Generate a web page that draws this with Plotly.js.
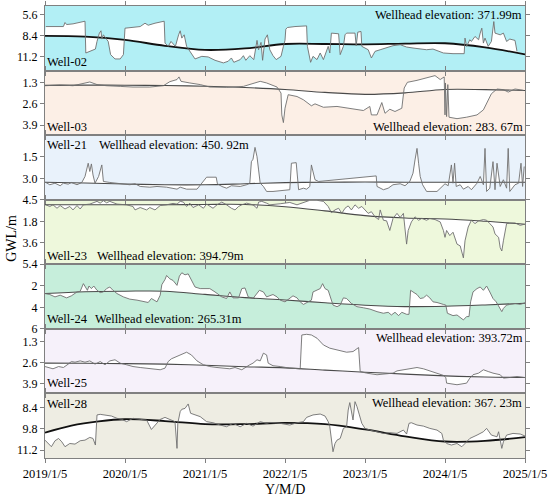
<!DOCTYPE html>
<html><head><meta charset="utf-8">
<script src="https://cdn.plot.ly/plotly-3.0.1.min.js"></script>
<style>html,body{margin:0;padding:0;background:#fff}#chart{width:550px;height:497px}</style>
</head><body><div id="chart"></div>
<script>
// ---- Data (x = decimal year, 2019.0 = 2019/1/5; y = groundwater level depth, m) ----
const xTickVals = [2019, 2020, 2021, 2022, 2023, 2024, 2025];
const xTickText = ['2019/1/5', '2020/1/5', '2021/1/5', '2022/1/5', '2023/1/5', '2024/1/5', '2025/1/5'];
const wellNames = ['Well-02', 'Well-03', 'Well-21', 'Well-23', 'Well-24', 'Well-25', 'Well-28'];
const elevations = ['371.99m', '283. 67m', '450. 92m', '394.79m', '265.31m', '393.72m', '367. 23m'];

const w02_obs = [[2019.01,7.16],[2019.23,7.16],[2019.25,6.62],[2019.27,6.89],[2019.35,6.80],[2019.42,6.62],[2019.48,6.53],[2019.50,6.44],[2019.51,10.71],[2019.56,10.49],[2019.63,10.18],[2019.65,9.16],[2019.68,8.04],[2019.70,7.73],[2019.71,8.84],[2019.73,8.27],[2019.75,8.58],[2019.79,9.16],[2019.82,10.93],[2019.875,11.51],[2019.94,11.51],[2019.98,10.93],[2020.00,7.38],[2020.10,7.24],[2020.19,7.16],[2020.25,6.71],[2020.29,6.98],[2020.375,6.71],[2020.49,6.44],[2020.50,9.38],[2020.54,9.82],[2020.575,9.16],[2020.60,9.47],[2020.63,9.82],[2020.67,8.27],[2020.69,7.73],[2020.71,8.71],[2020.74,8.27],[2020.77,9.82],[2020.83,10.71],[2020.875,11.51],[2020.96,11.16],[2021.04,11.24],[2021.125,11.69],[2021.23,12.04],[2021.29,11.82],[2021.33,11.38],[2021.36,11.96],[2021.44,11.60],[2021.48,11.07],[2021.51,11.69],[2021.56,11.07],[2021.61,11.60],[2021.65,9.02],[2021.67,10.27],[2021.70,9.29],[2021.72,11.69],[2021.75,8.84],[2021.78,8.27],[2021.81,10.27],[2021.85,11.07],[2021.89,11.60],[2021.95,11.16],[2021.98,9.82],[2022.00,9.00],[2022.01,7.51],[2022.03,7.29],[2022.125,7.16],[2022.25,7.02],[2022.27,7.07],[2022.28,9.82],[2022.32,11.96],[2022.35,11.16],[2022.40,11.60],[2022.44,10.71],[2022.48,11.60],[2022.54,9.82],[2022.56,10.71],[2022.58,8.04],[2022.67,8.13],[2022.69,10.93],[2022.73,9.82],[2022.75,8.27],[2022.77,8.04],[2022.875,8.04],[2022.89,9.73],[2022.91,7.91],[2022.95,7.82],[2022.96,9.82],[2023.00,10.04],[2023.04,10.27],[2023.08,11.38],[2023.125,10.49],[2023.19,10.27],[2023.27,10.04],[2023.35,9.73],[2023.44,9.60],[2023.52,9.91],[2023.60,10.04],[2023.69,10.18],[2023.77,10.27],[2023.85,10.18],[2023.94,10.49],[2023.98,10.71],[2024.10,10.80],[2024.24,10.80],[2024.25,8.71],[2024.27,9.82],[2024.31,8.93],[2024.33,9.16],[2024.375,8.49],[2024.42,8.93],[2024.44,8.04],[2024.46,7.38],[2024.48,9.38],[2024.50,8.71],[2024.54,9.82],[2024.58,9.16],[2024.61,6.49],[2024.625,8.04],[2024.69,8.27],[2024.73,8.04],[2024.77,9.16],[2024.81,8.84],[2024.875,9.02],[2024.90,10.49]];
const w02_fit = [[2019.0,8.40],[2019.5,8.50],[2020.0,8.95],[2020.5,9.75],[2021.0,10.30],[2021.5,10.10],[2022.0,9.50],[2022.5,9.50],[2023.0,9.55],[2023.5,9.45],[2024.0,9.40],[2024.5,9.95],[2025.0,10.90]];

const w03_obs = [[2019.0,1.49],[2019.19,1.44],[2019.35,1.49],[2019.48,1.32],[2019.56,1.26],[2019.65,1.42],[2019.77,1.49],[2019.94,1.53],[2020.10,1.57],[2020.31,1.57],[2020.48,1.49],[2020.56,1.24],[2020.65,1.11],[2020.675,0.95],[2020.70,1.22],[2020.81,1.32],[2020.94,1.42],[2021.06,1.57],[2021.27,1.59],[2021.48,1.53],[2021.60,1.36],[2021.69,1.22],[2021.77,1.32],[2021.85,1.49],[2021.90,1.57],[2021.95,1.94],[2021.96,3.28],[2021.98,3.75],[2022.0,2.87],[2022.04,2.04],[2022.15,2.15],[2022.23,2.35],[2022.29,2.56],[2022.33,2.72],[2022.375,2.60],[2022.48,2.81],[2022.65,2.76],[2022.81,2.89],[2022.98,3.01],[2023.06,2.76],[2023.08,3.28],[2023.15,3.28],[2023.21,2.52],[2023.25,3.18],[2023.31,2.93],[2023.375,3.07],[2023.46,2.87],[2023.49,1.63],[2023.53,1.28],[2023.65,1.16],[2023.77,1.03],[2023.875,0.87],[2023.94,1.11],[2023.99,0.95],[2024.0,3.28],[2024.005,1.32],[2024.02,3.38],[2024.035,1.42],[2024.05,3.42],[2024.15,3.51],[2024.27,3.42],[2024.40,3.28],[2024.48,2.97],[2024.54,2.35],[2024.58,1.98],[2024.65,1.69],[2024.73,1.73],[2024.79,1.88],[2024.875,1.69],[2024.98,1.77]];
const w03_fit = [[2019.0,1.47],[2019.5,1.45],[2020.0,1.46],[2020.5,1.48],[2021.0,1.52],[2021.5,1.60],[2022.0,1.72],[2022.5,1.90],[2023.0,2.02],[2023.5,1.93],[2024.0,1.72],[2024.5,1.73],[2025.0,1.78]];

const w21_obs = [[2019.01,3.29],[2019.06,3.45],[2019.125,3.34],[2019.19,3.52],[2019.23,3.34],[2019.29,3.41],[2019.33,3.29],[2019.40,3.45],[2019.46,3.29],[2019.50,2.87],[2019.54,1.94],[2019.56,2.52],[2019.58,1.99],[2019.60,2.76],[2019.625,3.34],[2019.67,2.87],[2019.71,2.06],[2019.73,3.22],[2019.81,3.29],[2019.94,3.38],[2020.06,3.45],[2020.125,3.38],[2020.19,3.57],[2020.31,3.62],[2020.40,3.57],[2020.52,3.62],[2020.65,3.76],[2020.69,3.62],[2020.77,3.76],[2020.90,3.76],[2020.96,3.34],[2021.02,2.92],[2021.14,2.92],[2021.155,3.38],[2021.21,3.57],[2021.27,3.69],[2021.33,3.52],[2021.44,3.57],[2021.52,3.45],[2021.56,3.34],[2021.58,1.83],[2021.60,1.66],[2021.625,0.83],[2021.65,1.48],[2021.67,2.41],[2021.69,3.34],[2021.73,3.57],[2021.77,3.92],[2021.85,3.92],[2022.06,3.80],[2022.08,1.94],[2022.14,1.90],[2022.17,3.80],[2022.23,3.69],[2022.27,3.76],[2022.31,3.57],[2022.33,2.06],[2022.35,2.52],[2022.375,3.10],[2022.42,3.22],[2023.14,2.83],[2023.15,3.57],[2023.23,3.80],[2023.29,3.69],[2023.35,3.45],[2023.44,3.38],[2023.50,3.52],[2023.56,3.22],[2023.60,2.64],[2023.625,1.71],[2023.65,0.90],[2023.67,1.94],[2023.69,2.87],[2023.72,3.45],[2023.77,3.92],[2023.90,3.92],[2024.0,3.38],[2024.04,3.52],[2024.08,2.06],[2024.10,3.34],[2024.12,1.94],[2024.14,3.57],[2024.19,3.45],[2024.23,3.76],[2024.29,3.57],[2024.33,3.80],[2024.40,3.34],[2024.44,2.87],[2024.48,3.45],[2024.50,0.90],[2024.52,3.92],[2024.56,3.69],[2024.60,1.83],[2024.625,3.80],[2024.65,1.94],[2024.69,3.57],[2024.73,3.10],[2024.77,3.69],[2024.79,0.90],[2024.81,3.92],[2024.875,3.45],[2024.92,3.34],[2024.95,1.94],[2024.97,3.57],[2024.99,2.17]];
const w21_fit = [[2019.0,3.27],[2019.5,3.33],[2020.0,3.40],[2020.5,3.45],[2021.0,3.45],[2021.5,3.38],[2022.0,3.30],[2022.5,3.27],[2023.0,3.26],[2023.5,3.27],[2024.0,3.28],[2024.5,3.28],[2025.0,3.28]];

const w23_obs = [[2019.01,0.39],[2019.06,0.53],[2019.10,0.39],[2019.15,0.68],[2019.19,0.45],[2019.25,0.74],[2019.31,0.53],[2019.35,0.82],[2019.40,0.45],[2019.44,0.74],[2019.48,0.39],[2019.56,0.33],[2019.65,0.10],[2019.69,0.25],[2019.73,0.04],[2019.77,0.22],[2019.81,0.10],[2019.90,0.33],[2020.02,0.39],[2020.10,0.53],[2020.125,0.82],[2020.19,0.62],[2020.27,0.82],[2020.31,0.62],[2020.375,0.82],[2020.44,0.45],[2020.52,0.39],[2020.60,0.27],[2020.65,0.33],[2020.69,0.10],[2020.73,0.16],[2020.77,0.53],[2020.81,0.25],[2020.85,0.62],[2020.92,0.39],[2020.98,0.68],[2021.02,0.33],[2021.10,0.68],[2021.15,0.39],[2021.21,0.16],[2021.27,0.39],[2021.33,0.68],[2021.375,0.82],[2021.42,0.53],[2021.46,0.39],[2021.52,0.25],[2021.60,0.39],[2021.65,0.68],[2021.67,0.16],[2021.71,0.10],[2021.77,0.25],[2021.81,0.39],[2021.94,0.30],[2022.06,0.19],[2022.15,0.39],[2022.23,0.19],[2022.31,0.01],[2022.40,0.01],[2022.48,0.10],[2022.54,0.53],[2022.58,1.05],[2022.625,0.82],[2022.67,0.68],[2022.71,1.11],[2022.75,0.68],[2022.79,0.48],[2022.83,0.82],[2022.875,0.39],[2022.92,0.68],[2022.96,0.53],[2023.0,0.82],[2023.04,1.11],[2023.08,0.97],[2023.125,1.40],[2023.17,1.63],[2023.19,0.82],[2023.23,1.69],[2023.27,1.74],[2023.31,2.55],[2023.35,1.54],[2023.40,1.11],[2023.44,1.46],[2023.48,1.11],[2023.50,2.26],[2023.52,3.70],[2023.54,2.55],[2023.58,1.83],[2023.625,1.40],[2023.67,1.69],[2023.71,1.54],[2023.77,1.69],[2023.81,1.54],[2023.875,1.63],[2023.94,1.83],[2023.98,2.55],[2024.0,3.13],[2024.02,2.55],[2024.06,2.98],[2024.10,2.70],[2024.15,3.70],[2024.19,3.85],[2024.23,4.86],[2024.25,3.42],[2024.29,2.26],[2024.33,1.69],[2024.375,1.97],[2024.42,1.74],[2024.48,1.63],[2024.52,1.69],[2024.56,1.97],[2024.60,2.26],[2024.625,2.84],[2024.67,3.13],[2024.69,4.00],[2024.71,4.28],[2024.73,3.42],[2024.77,1.97],[2024.81,1.92],[2024.875,1.92],[2024.94,2.12],[2024.99,2.03]];
const w23_fit = [[2019.0,0.39],[2019.5,0.39],[2020.0,0.39],[2020.5,0.38],[2021.0,0.36],[2021.5,0.36],[2022.0,0.55],[2022.5,0.90],[2023.0,1.30],[2023.5,1.50],[2024.0,1.58],[2024.5,1.78],[2025.0,2.03]];

const w24_obs = [[2019.0,2.72],[2019.06,2.81],[2019.125,3.03],[2019.19,2.87],[2019.27,3.12],[2019.33,2.93],[2019.40,2.57],[2019.44,2.51],[2019.48,1.80],[2019.50,2.11],[2019.53,2.42],[2019.55,2.02],[2019.58,2.26],[2019.61,2.02],[2019.65,2.42],[2019.69,2.63],[2019.73,2.57],[2019.77,2.26],[2019.81,2.11],[2019.85,2.42],[2019.90,2.72],[2019.98,3.03],[2020.06,3.24],[2020.15,3.33],[2020.23,3.42],[2020.29,3.55],[2020.33,3.18],[2020.40,3.49],[2020.44,2.87],[2020.46,1.90],[2020.50,1.41],[2020.52,1.04],[2020.56,1.35],[2020.60,1.50],[2020.65,1.96],[2020.68,1.10],[2020.71,0.79],[2020.75,0.98],[2020.79,0.89],[2020.83,1.41],[2020.875,2.11],[2020.94,2.26],[2021.0,2.26],[2021.06,2.26],[2021.125,2.57],[2021.21,3.03],[2021.27,3.18],[2021.31,2.57],[2021.35,3.12],[2021.42,3.12],[2021.46,2.26],[2021.50,2.20],[2021.54,3.03],[2021.60,3.18],[2021.68,2.42],[2021.73,2.57],[2021.77,3.03],[2021.81,2.93],[2021.85,2.81],[2021.90,3.03],[2021.94,3.33],[2022.0,3.49],[2022.06,3.18],[2022.10,2.93],[2022.15,3.12],[2022.19,3.49],[2022.23,3.73],[2022.29,3.49],[2022.33,3.33],[2022.35,2.57],[2022.40,2.42],[2022.44,2.26],[2022.47,1.80],[2022.50,2.26],[2022.54,2.42],[2022.56,2.87],[2022.60,3.79],[2022.65,3.94],[2022.69,3.79],[2022.73,3.12],[2022.77,3.18],[2022.83,3.64],[2022.90,3.94],[2022.98,4.04],[2023.06,4.16],[2023.15,4.40],[2023.23,4.55],[2023.29,4.46],[2023.33,4.71],[2023.375,4.46],[2023.42,4.77],[2023.46,4.46],[2023.52,4.65],[2023.55,4.65],[2023.57,2.42],[2023.60,2.57],[2023.65,2.81],[2023.69,3.18],[2023.73,3.12],[2023.77,2.87],[2023.81,3.12],[2023.85,3.49],[2023.90,3.55],[2023.98,3.73],[2024.01,3.79],[2024.03,4.55],[2024.06,4.65],[2024.10,4.77],[2024.15,4.71],[2024.19,4.95],[2024.23,5.17],[2024.27,4.86],[2024.30,4.86],[2024.32,3.49],[2024.35,2.57],[2024.40,2.26],[2024.44,2.11],[2024.48,2.42],[2024.52,2.02],[2024.56,2.57],[2024.60,3.18],[2024.64,3.49],[2024.68,4.10],[2024.71,4.40],[2024.73,4.10],[2024.77,3.79],[2024.81,3.73],[2024.875,3.64],[2024.94,3.73],[2025.0,3.58]];
const w24_fit = [[2019.0,2.72],[2019.5,2.55],[2020.0,2.50],[2020.5,2.50],[2021.0,2.80],[2021.5,3.10],[2022.0,3.32],[2022.5,3.58],[2023.0,3.80],[2023.5,3.93],[2024.0,3.90],[2024.5,3.78],[2025.0,3.62]];

const w25_obs = [[2019.0,2.85],[2019.06,2.95],[2019.10,2.99],[2019.17,2.85],[2019.23,2.91],[2019.29,2.70],[2019.33,2.54],[2019.375,2.58],[2019.44,2.50],[2019.50,2.58],[2019.56,2.50],[2019.625,2.70],[2019.69,2.54],[2019.75,2.74],[2019.81,2.50],[2019.875,2.43],[2019.94,2.64],[2020.02,2.74],[2020.10,2.85],[2020.19,2.91],[2020.27,2.95],[2020.35,2.99],[2020.44,3.05],[2020.50,2.95],[2020.54,2.54],[2020.58,2.37],[2020.65,2.23],[2020.71,2.08],[2020.77,1.96],[2020.83,2.13],[2020.90,2.50],[2020.98,2.74],[2021.06,2.85],[2021.15,2.91],[2021.23,2.95],[2021.31,2.99],[2021.375,2.91],[2021.46,3.05],[2021.56,2.74],[2021.60,2.64],[2021.65,2.43],[2021.69,2.50],[2021.73,2.02],[2021.77,2.13],[2021.79,2.64],[2021.85,2.80],[2021.94,2.85],[2022.06,2.95],[2022.19,2.99],[2022.21,0.89],[2022.27,0.85],[2022.33,0.89],[2022.40,1.09],[2022.48,1.51],[2022.56,1.71],[2022.65,1.82],[2022.77,1.96],[2022.85,1.92],[2022.92,1.67],[2022.94,3.16],[2023.02,3.26],[2023.15,3.36],[2023.27,3.32],[2023.35,3.26],[2023.40,3.12],[2023.48,3.05],[2023.56,2.95],[2023.65,2.91],[2023.73,2.99],[2023.81,3.12],[2023.90,3.26],[2023.98,3.40],[2024.01,3.53],[2024.02,3.88],[2024.15,3.98],[2024.27,3.88],[2024.31,3.57],[2024.35,3.36],[2024.42,3.26],[2024.48,3.05],[2024.54,3.16],[2024.60,3.26],[2024.69,3.36],[2024.73,3.57],[2024.81,3.53],[2024.90,3.47],[2025.0,3.53]];
const w25_fit = [[2019.0,2.64],[2019.5,2.65],[2020.0,2.67],[2020.5,2.70],[2021.0,2.77],[2021.5,2.86],[2022.0,2.93],[2022.5,3.07],[2023.0,3.20],[2023.5,3.32],[2024.0,3.43],[2024.5,3.50],[2025.0,3.53]];

const w28_obs = [[2019.0,10.55],[2019.04,10.77],[2019.08,10.98],[2019.125,10.59],[2019.17,10.44],[2019.21,10.66],[2019.25,10.98],[2019.31,10.77],[2019.375,10.81],[2019.44,10.59],[2019.50,10.55],[2019.56,10.37],[2019.60,10.44],[2019.63,10.87],[2019.65,8.90],[2019.69,8.86],[2019.77,8.90],[2019.83,8.97],[2019.90,9.12],[2019.96,9.19],[2020.02,9.34],[2020.06,9.23],[2020.10,9.12],[2020.19,9.19],[2020.27,9.23],[2020.33,9.85],[2020.375,9.56],[2020.44,9.19],[2020.50,9.06],[2020.56,9.19],[2020.625,9.34],[2020.65,11.09],[2020.66,9.45],[2020.69,8.68],[2020.71,8.53],[2020.75,8.47],[2020.79,8.18],[2020.82,8.79],[2020.875,8.90],[2020.94,9.01],[2021.02,9.34],[2021.10,9.41],[2021.19,9.56],[2021.27,9.67],[2021.35,9.45],[2021.44,9.67],[2021.52,9.45],[2021.60,9.63],[2021.69,9.34],[2021.77,9.45],[2021.81,9.39],[2021.94,9.45],[2022.06,9.56],[2022.15,9.41],[2022.23,9.34],[2022.27,9.06],[2022.35,8.90],[2022.44,8.84],[2022.50,8.97],[2022.54,9.34],[2022.56,9.67],[2022.58,10.66],[2022.60,11.31],[2022.625,10.77],[2022.65,10.55],[2022.69,10.44],[2022.73,9.78],[2022.77,9.67],[2022.79,8.58],[2022.81,8.09],[2022.85,9.23],[2022.875,8.03],[2022.90,8.36],[2022.93,8.90],[2022.96,9.45],[2023.0,9.78],[2023.06,9.89],[2023.15,10.00],[2023.23,10.11],[2023.31,10.06],[2023.40,10.11],[2023.48,9.89],[2023.52,10.15],[2023.55,9.45],[2023.58,9.41],[2023.65,9.56],[2023.73,9.63],[2023.81,9.78],[2023.90,9.89],[2023.96,10.11],[2023.98,10.55],[2024.02,10.77],[2024.08,10.87],[2024.15,10.77],[2024.21,10.98],[2024.25,10.77],[2024.31,10.44],[2024.40,10.22],[2024.48,10.00],[2024.52,9.78],[2024.58,10.22],[2024.65,10.33],[2024.67,10.00],[2024.71,11.09],[2024.73,10.66],[2024.77,10.22],[2024.85,10.11],[2024.94,10.15],[2025.0,10.28]];
const w28_fit = [[2019.0,10.06],[2019.33,9.60],[2019.67,9.32],[2020.0,9.18],[2020.5,9.30],[2021.0,9.50],[2021.5,9.50],[2022.0,9.42],[2022.5,9.50],[2023.0,9.85],[2023.5,10.30],[2024.0,10.64],[2024.5,10.60],[2025.0,10.35]];

// ---- Panel styling ----
const panels = [
  {obs: w02_obs, fit: w02_fit, range: [13.07, 4.4], tv: [5.6, 8.4, 11.2], fmt: '.1f', bg: '#b2eff5', fc: '#111111', fw: 1.8},
  {obs: w03_obs, fit: w03_fit, range: [4.52, 0.56], tv: [1.3, 2.6, 3.9], fmt: '.1f', bg: '#fcefe6', fc: '#4a4a4a', fw: 1.1},
  {obs: w21_obs, fit: w21_fit, range: [4.5, -0.03], tv: [1.5, 3.0, 4.5], fmt: '.1f', bg: '#e9f2fb', fc: '#4a4a4a', fw: 1.1},
  {obs: w23_obs, fit: w23_fit, range: [5.4, -0.04], tv: [1.8, 3.6, 5.4], fmt: '.1f', bg: '#eef8dc', fc: '#4a4a4a', fw: 1.1},
  {obs: w24_obs, fit: w24_fit, range: [6, 0], tv: [2, 4, 6], fmt: '', bg: '#c6eedb', fc: '#4a4a4a', fw: 1.1},
  {obs: w25_obs, fit: w25_fit, range: [4.52, 0.51], tv: [1.3, 2.6, 3.9], fmt: '.1f', bg: '#f6f1fa', fc: '#4a4a4a', fw: 1.1},
  {obs: w28_obs, fit: w28_fit, range: [11.72, 7.49], tv: [8.4, 9.8, 11.2], fmt: '.1f', bg: '#eeede3', fc: '#111111', fw: 1.8}
];

const FONT = 'Liberation Serif';
const N = panels.length;
const traces = [];
const layout = {
  width: 550, height: 497,
  margin: {l: 45, r: 25, t: 6, b: 39},
  paper_bgcolor: '#ffffff', plot_bgcolor: 'rgba(0,0,0,0)',
  showlegend: false,
  font: {family: FONT, size: 12, color: '#000'},
  shapes: [], annotations: []
};

panels.forEach((p, i) => {
  const k = i === 0 ? '' : String(i + 1);
  const xa = 'x' + k, ya = 'y' + k;
  traces.push({
    x: p.fit.map(d => d[0]), y: p.fit.map(d => d[1]),
    xaxis: xa, yaxis: ya, type: 'scatter', mode: 'lines',
    line: {color: p.fc, width: p.fw, shape: 'spline', smoothing: 1},
    hoverinfo: 'skip'
  });
  traces.push({
    x: p.obs.map(d => d[0]), y: p.obs.map(d => d[1]),
    xaxis: xa, yaxis: ya, type: 'scatter', mode: 'lines',
    line: {color: '#6f6f6f', width: 0.9},
    fill: 'tonexty', fillcolor: '#ffffff',
    hoverinfo: 'skip'
  });
  const top = 1 - i / N, bot = 1 - (i + 1) / N;
  layout['xaxis' + k] = {
    domain: [0, 1], anchor: ya, range: [2019, 2025],
    tickmode: 'array', tickvals: xTickVals, ticktext: xTickText,
    showticklabels: i === N - 1, ticks: 'outside', ticklen: 4, tickcolor: '#808080',
    showline: true, linecolor: '#808080', linewidth: 1, mirror: 'ticks',
    showgrid: false, zeroline: false, fixedrange: true,
    tickfont: {family: FONT, size: 12.5, color: '#000'}
  };
  if (i > 0) layout['xaxis' + k].matches = 'x';
  layout['yaxis' + k] = {
    domain: [bot, top], anchor: xa, range: p.range,
    tickmode: 'array', tickvals: p.tv, tickformat: p.fmt,
    ticks: 'outside', ticklen: 4, tickcolor: '#808080',
    showline: true, linecolor: '#808080', linewidth: 1, mirror: 'ticks',
    showgrid: false, zeroline: false, fixedrange: true,
    tickfont: {family: FONT, size: 12, color: '#000'}
  };
  layout.shapes.push({
    type: 'rect', xref: xa + ' domain', yref: ya + ' domain',
    x0: 0, x1: 1, y0: 0, y1: 1, layer: 'below',
    fillcolor: p.bg, line: {width: 0}
  });
});

// ---- Text labels (paper coordinates) ----
function ann(text, x, y, xanchor) {
  layout.annotations.push({text: text, xref: 'paper', yref: 'paper', x: x, y: y,
    xanchor: xanchor, yanchor: 'middle', showarrow: false,
    font: {family: FONT, size: 12.5, color: '#000'}});
}
const elevLabel = e => 'Wellhead elevation: ' + e;
ann(wellNames[0], 0.0, 0.876, 'left');
ann(elevLabel(elevations[0]), 0.998, 0.980, 'right');
ann(wellNames[1], 0.0, 0.732, 'left');
ann(elevLabel(elevations[1]), 1.0, 0.732, 'right');
ann(wellNames[2], 0.0, 0.6925, 'left');
ann(elevLabel(elevations[2]), 0.108, 0.6925, 'left');
ann(wellNames[3], 0.0, 0.447, 'left');
ann(elevLabel(elevations[3]), 0.104, 0.447, 'left');
ann(wellNames[4], 0.0, 0.3075, 'left');
ann(elevLabel(elevations[4]), 0.100, 0.3075, 'left');
ann(wellNames[5], 0.0, 0.166, 'left');
ann(elevLabel(elevations[5]), 1.0, 0.2655, 'right');
ann(wellNames[6], 0.0, 0.1195, 'left');
ann(elevLabel(elevations[6]), 0.998, 0.1217, 'right');

layout.annotations.push({text: 'GWL/m', xref: 'paper', yref: 'paper', x: -0.069, y: 0.487,
  xanchor: 'center', yanchor: 'middle', textangle: -90, showarrow: false,
  font: {family: FONT, size: 14, color: '#000'}});
layout.annotations.push({text: 'Y/M/D', xref: 'paper', yref: 'paper', x: 0.50, y: -0.069,
  xanchor: 'center', yanchor: 'middle', showarrow: false,
  font: {family: FONT, size: 14, color: '#000'}});

Plotly.newPlot('chart', traces, layout, {displayModeBar: false, staticPlot: true});
</script>
</body></html>
